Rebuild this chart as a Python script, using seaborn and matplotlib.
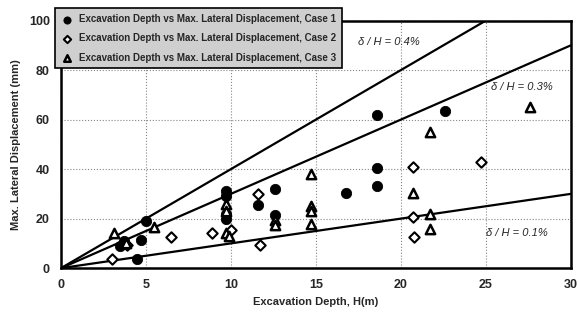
import matplotlib
matplotlib.use('Agg')
import matplotlib.pyplot as plt
import seaborn as sns
import pandas as pd

# Case data: excavation depth H (m) vs max lateral displacement (mm)
case1_h = [3.5, 3.7, 4.5, 4.7, 5.0, 9.7, 9.7, 9.7, 9.7, 11.6, 12.6, 12.6, 16.8, 18.6, 18.6, 18.6, 22.6]
case1_d = [9, 11, 3.5, 11.5, 19, 31, 29, 22, 20, 25.5, 32, 21.5, 30.5, 62, 40.5, 33, 63.5]

case2_h = [3.0, 3.9, 6.5, 8.9, 10.0, 11.7, 11.6, 20.7, 20.7, 20.8, 24.7]
case2_d = [3.5, 9.5, 12.5, 14, 15.5, 9.5, 30, 41, 20.5, 12.5, 43]

case3_h = [3.1, 3.8, 5.5, 9.7, 9.7, 9.7, 9.9, 12.6, 12.6, 14.7, 14.7, 14.7, 14.7, 20.7, 21.7, 21.7, 21.7, 27.6]
case3_d = [14, 10, 16.5, 26, 23, 14, 13, 19.5, 17.5, 38, 25, 23, 18, 30.5, 55, 22, 16, 65]

# reference lines delta/H
ref_h = [0, 30]
ref_04 = [0, 120]
ref_03 = [0, 90]
ref_01 = [0, 30]

labels = ['Excavation Depth vs Max. Lateral Displacement, Case 1',
          'Excavation Depth vs Max. Lateral Displacement, Case 2',
          'Excavation Depth vs Max. Lateral Displacement, Case 3']

sns.set_style('white')
plt.rcParams['font.family'] = ['Liberation Sans Narrow', 'Liberation Sans', 'DejaVu Sans']

fig = plt.figure(figsize=(5.78, 3.27), dpi=100)
ax = fig.add_axes([0.1055, 0.180, 0.882, 0.757])

for d in [ref_04, ref_03, ref_01]:
    sns.lineplot(x=ref_h, y=d, ax=ax, color='black', lw=1.6, zorder=2)

df1 = pd.DataFrame({'H': case1_h, 'd': case1_d})
df2 = pd.DataFrame({'H': case2_h, 'd': case2_d})
df3 = pd.DataFrame({'H': case3_h, 'd': case3_d})
sns.scatterplot(data=df1, x='H', y='d', ax=ax, marker='o', s=55, color='black',
                edgecolor='black', label=labels[0], zorder=3)
sns.scatterplot(data=df2, x='H', y='d', ax=ax, marker='D', s=28, facecolor='white',
                edgecolor='black', linewidth=1.5, label=labels[1], zorder=3)
sns.scatterplot(data=df3, x='H', y='d', ax=ax, marker='^', s=45, facecolor='white',
                edgecolor='black', linewidth=1.8, label=labels[2], zorder=3)

ax.set_xlim(0, 30)
ax.set_ylim(0, 100)
ax.set_xticks([0, 5, 10, 15, 20, 25, 30])
ax.set_yticks([0, 20, 40, 60, 80, 100])
ax.tick_params(labelsize=9, length=0, pad=8)
for t in ax.get_xticklabels() + ax.get_yticklabels():
    t.set_fontweight('bold')
ax.grid(True, ls=':', color='#888888', lw=0.8)
for s in ax.spines.values():
    s.set_color('black')
    s.set_linewidth(1.8)

ax.set_xlabel('Excavation Depth, H(m)', fontsize=8, fontweight='bold', labelpad=4)
ax.set_ylabel('Max. Lateral Displacement (mm)', fontsize=8, fontweight='bold', labelpad=6)

ax.text(17.5, 90, 'δ / H = 0.4%', fontsize=8, style='italic')
ax.text(25.3, 72, 'δ / H = 0.3%', fontsize=8, style='italic')
ax.text(25.0, 13, 'δ / H = 0.1%', fontsize=8, style='italic')

leg = ax.legend(loc='upper left', bbox_to_anchor=(-0.012, 1.05), fontsize=7,
                frameon=True, fancybox=False, borderpad=0.6, labelspacing=0.95,
                handletextpad=0.7, handlelength=1.2, borderaxespad=0, markerscale=0.7)
leg.get_frame().set_facecolor('#cfcfcf')
leg.get_frame().set_edgecolor('black')
leg.get_frame().set_linewidth(1.2)
leg.get_frame().set_alpha(1)
for t in leg.get_texts():
    t.set_fontweight('bold')

fig.savefig('out.png', dpi=100)
